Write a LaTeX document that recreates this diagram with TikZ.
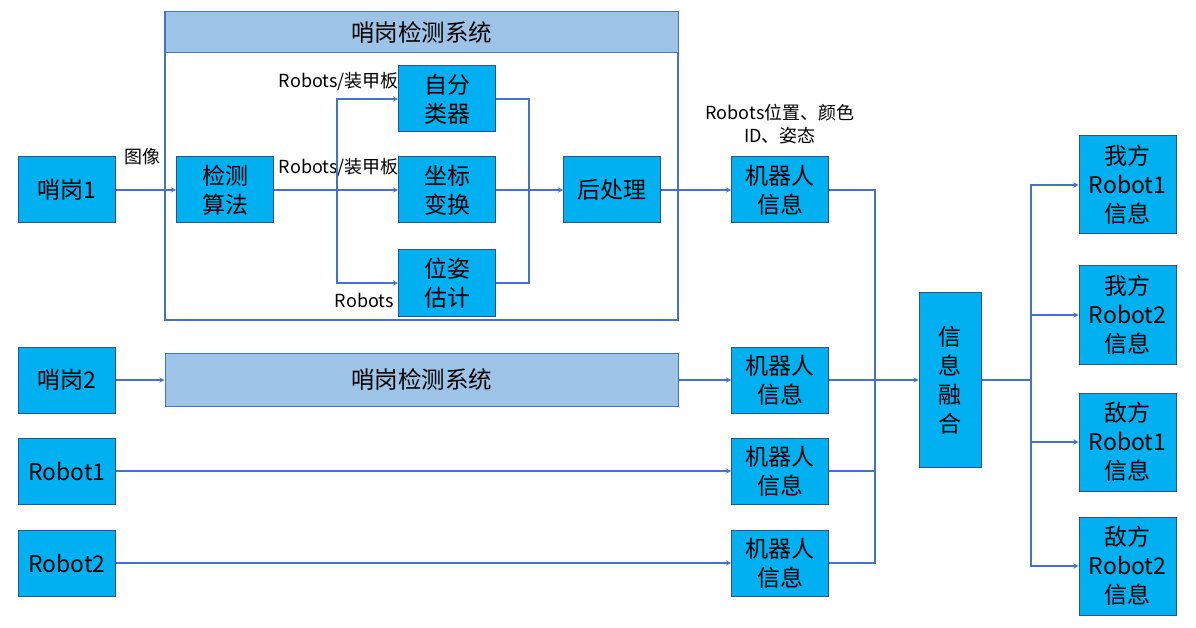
\documentclass[tikz,border=0pt]{standalone}
\usepackage{fontspec}
\setmainfont{Noto Sans CJK SC}
\usetikzlibrary{arrows}
\definecolor{boxfill}{HTML}{00B0F0}
\definecolor{boxline}{HTML}{2F528F}
\definecolor{wire}{HTML}{4472C4}
\definecolor{band}{HTML}{9DC3E6}
\tikzset{
  blk/.style={draw=boxline,fill=boxfill,line width=1pt,minimum width=97pt,minimum height=66pt,
    inner sep=0pt,align=center,font=\fontsize{23}{29}\selectfont},
  tall/.style={blk,minimum height=98pt},
  bar/.style={draw=wire,fill=band,line width=1pt,inner sep=0pt,font=\fontsize{23.5}{29}\selectfont},
  lbl/.style={inner sep=0pt,align=center,font=\fontsize{18}{23}\selectfont},
  wr/.style={draw=wire,line width=1.2pt}
}
\begin{document}
\begin{tikzpicture}[x=1pt,y=-1pt,>=stealth]
\useasboundingbox (0,0) rectangle (1196,628);

% sentry 1 detection system
\draw[wr] (165,12) rectangle (678,320);
\node[bar,minimum width=513pt,minimum height=41pt] (hdr) at (421.5,32.5) {哨岗检测系统};

\node[blk] (s1) at (67,190) {哨岗1};
\node[blk] (det) at (225,190) {检测\\算法};
\node[blk] (cls) at (447,99) {自分\\类器};
\node[blk] (tf) at (447,190) {坐标\\变换};
\node[blk] (pose) at (447,283) {位姿\\估计};
\node[blk] (post) at (612,190) {后处理};
\node[blk] (inf1) at (780,190) {机器人\\信息};

\node[lbl] (img) at (142,157) {图像};
\node[lbl,anchor=east] (lcls) at (399,82) {Robots/装甲板};
\node[lbl,anchor=east] (ltf) at (399,168) {Robots/装甲板};
\node[lbl,anchor=east] (lpose) at (394,300) {Robots};
\node[lbl] (lout) at (780,124) {Robots位置、颜色\\ID、姿态};

\coordinate (sp) at (337,190);
\coordinate (jn) at (529,190);
\draw[wr,->] (s1) -- (det);
\draw[wr] (det) -- (sp);
\draw[wr,->] (sp) |- (cls);
\draw[wr,->] (sp) -- (tf);
\draw[wr,->] (sp) |- (pose);
\draw[wr] (cls) -| (jn);
\draw[wr] (pose) -| (jn);
\draw[wr,->] (tf) -- (post);
\draw[wr,->] (post) -- (inf1);

% sentry 2 and robots
\node[blk] (s2) at (67,380) {哨岗2};
\node[bar,minimum width=513pt,minimum height=53pt] (sys2) at (421.5,380) {哨岗检测系统};
\node[blk] (inf2) at (780,380) {机器人\\信息};
\node[blk] (r1) at (67,471) {Robot1};
\node[blk] (inf3) at (780,471) {机器人\\信息};
\node[blk] (r2) at (67,563) {Robot2};
\node[blk] (inf4) at (780,563) {机器人\\信息};

\draw[wr,->] (s2) -- (sys2);
\draw[wr,->] (sys2) -- (inf2);
\draw[wr,->] (r1) -- (inf3);
\draw[wr,->] (r2) -- (inf4);

% fusion
\node[blk,minimum width=62pt,minimum height=175pt] (fuse) at (950,380) {信\\息\\融\\合};
\coordinate (mg) at (875,380);
\coordinate (dv) at (1031,380);
\draw[wr] (inf1) -| (mg);
\draw[wr] (inf3) -| (mg);
\draw[wr] (inf4) -| (mg);
\draw[wr,->] (inf2) -- (fuse);

\node[tall] (we1) at (1127.5,185) {我方\\Robot1\\信息};
\node[tall] (we2) at (1127.5,315) {我方\\Robot2\\信息};
\node[tall] (en1) at (1127.5,442) {敌方\\Robot1\\信息};
\node[tall] (en2) at (1127.5,566) {敌方\\Robot2\\信息};

\draw[wr] (fuse) -- (dv);
\foreach \t in {we1,we2,en1,en2}
  \draw[wr,->] (dv) |- (\t);
\end{tikzpicture}
\end{document}
